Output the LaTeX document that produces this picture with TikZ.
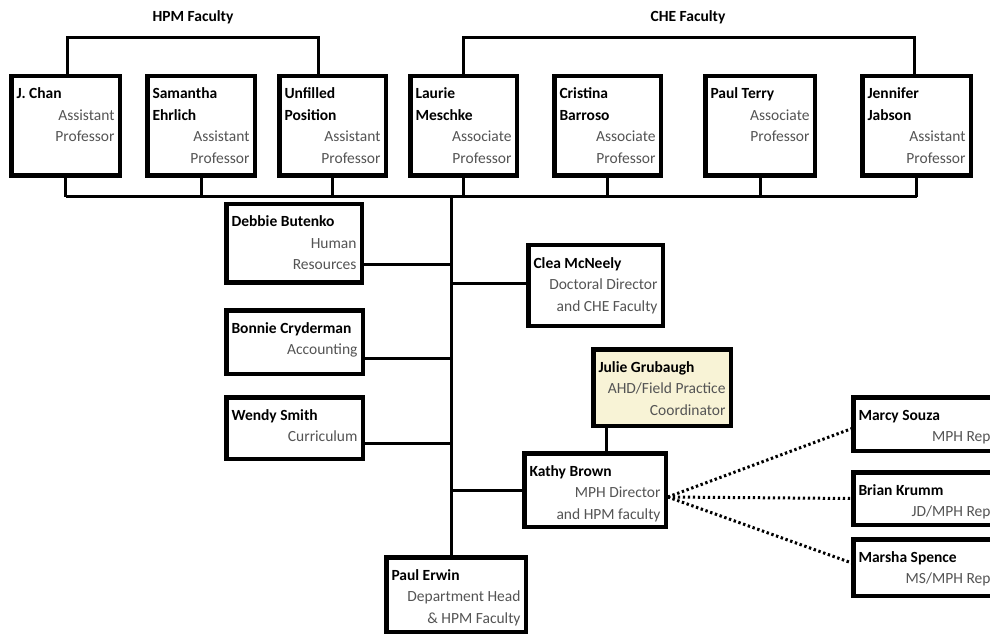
\documentclass[tikz,border=0pt]{standalone}
\usepackage{fontspec}
\setmainfont{Carlito}
\usetikzlibrary{calc}
\definecolor{rolec}{gray}{0.33}
\definecolor{julief}{HTML}{F8F3D6}
\tikzset{
  obx/.style={draw=black, line width=4.5pt, inner sep=0pt, outer sep=0pt, rectangle},
  conn/.style={draw=black, line width=3pt},
  dotconn/.style={draw=black, line width=3pt, dash pattern=on 2.4pt off 2.6pt},
  hdr/.style={font=\bfseries\fontsize{15.5pt}{18pt}\selectfont, inner sep=0pt}
}
\newcommand\obox[8][white]{%
  \node[obx, fill=#1, minimum width={#5-#3-4.5}, minimum height={#6-#4-4.5}] (#2) at ({(#3+#5)/2},{(#4+#6)/2})
  {\parbox[c][\dimexpr #6pt-#4pt-10pt\relax][t]{\dimexpr #5pt-#3pt-15pt\relax}{%
    \fontsize{15.5pt}{21.5pt}\selectfont
    {\raggedright\bfseries\rule{0pt}{20pt}#7\par}%
    {\raggedleft\color{rolec}#8\par}}};}
\begin{document}
\begin{tikzpicture}[x=1pt,y=-1pt]
\useasboundingbox (0,0) rectangle (990,636);
\fill[white] (0,0) rectangle (990,636);

% headers
\node[hdr] (hpmlbl) at (193,17) {HPM Faculty};
\node[hdr] (chelbl) at (688,17) {CHE Faculty};

% top faculty boxes
\obox{jchan}{9}{74}{122}{178}{J. Chan}{Assistant\\Professor}
\obox{ehrlich}{145}{74}{257}{178}{Samantha\\Ehrlich}{Assistant\\Professor}
\obox{unfilled}{277}{74}{388}{178}{Unfilled\\Position}{Assistant\\Professor}
\obox{meschke}{408}{74}{519}{178}{Laurie\\Meschke}{Associate\\Professor}
\obox{barroso}{552}{74}{663}{178}{Cristina\\Barroso}{Associate\\Professor}
\obox{terry}{703}{74}{817}{178}{Paul Terry}{Associate\\Professor}
\obox{jabson}{860}{74}{973}{178}{Jennifer\\Jabson}{Assistant\\Professor}

% staff
\obox{butenko}{224}{202}{364}{285}{Debbie Butenko}{Human\\Resources}
\obox{cryderman}{224}{308}{365}{376}{Bonnie Cryderman}{Accounting}
\obox{smith}{224}{395}{365}{461}{Wendy Smith}{Curriculum}
\obox{mcneely}{526}{243}{665}{328}{Clea McNeely}{Doctoral Director\\and CHE Faculty}
\obox[julief]{grubaugh}{591}{347}{733}{428}{Julie Grubaugh}{AHD/Field Practice\\Coordinator}
\obox{brown}{522}{451}{668}{529}{Kathy Brown}{MPH Director\\and HPM faculty}
\obox{erwin}{384}{555}{528}{634}{Paul Erwin}{Department Head\\\& HPM Faculty}

% reps
\obox{souza}{851}{395}{998}{453}{Marcy Souza}{MPH Rep}
\obox{krumm}{851}{470}{998}{527}{Brian Krumm}{JD/MPH Rep}
\obox{spence}{851}{537}{998}{598}{Marsha Spence}{MS/MPH Rep}

% brackets
\coordinate (hpmL) at (67,38);
\coordinate (hpmR) at (318,38);
\coordinate (cheL) at (463,38);
\coordinate (cheR) at (914,38);
\draw[conn] (jchan.north -| hpmL) -- (hpmL) -- (hpmR) -- (unfilled.north -| hpmR);
\draw[conn] (meschke.north -| cheL) -- (cheL) -- (cheR) -- (jabson.north -| cheR);

% bus
\coordinate (bus) at (0,197);
\draw[conn] (jchan.south |- bus) -- (jabson.south |- bus);
\foreach \b in {jchan,ehrlich,unfilled,meschke,barroso,terry,jabson}
  \draw[conn] (\b.south) -- (\b.south |- bus);

% trunk
\coordinate (trunk) at (451,197);
\draw[conn] (trunk) -- (trunk |- erwin.north);
\coordinate (yD) at (0,265);
\coordinate (yB) at (0,358);
\coordinate (yW) at (0,443);
\coordinate (yC) at (0,283);
\draw[conn] (butenko.east |- yD) -- (trunk |- yD);
\draw[conn] (cryderman.east |- yB) -- (trunk |- yB);
\draw[conn] (smith.east |- yW) -- (trunk |- yW);
\draw[conn] (trunk |- yC) -- (mcneely.west |- yC);
\draw[conn] (trunk |- brown.west) -- (brown.west);
\coordinate (jk) at (606,0);
\draw[conn] (grubaugh.south -| jk) -- (brown.north -| jk);

% dotted
\coordinate (kd) at ($(brown.east)+(2,7)$);
\draw[dotconn] (kd) -- ($(souza.west)+(0,4)$);
\draw[dotconn] (kd) -- (krumm.west);
\draw[dotconn] (kd) -- ($(spence.west)+(0,-4)$);
\end{tikzpicture}
\end{document}
